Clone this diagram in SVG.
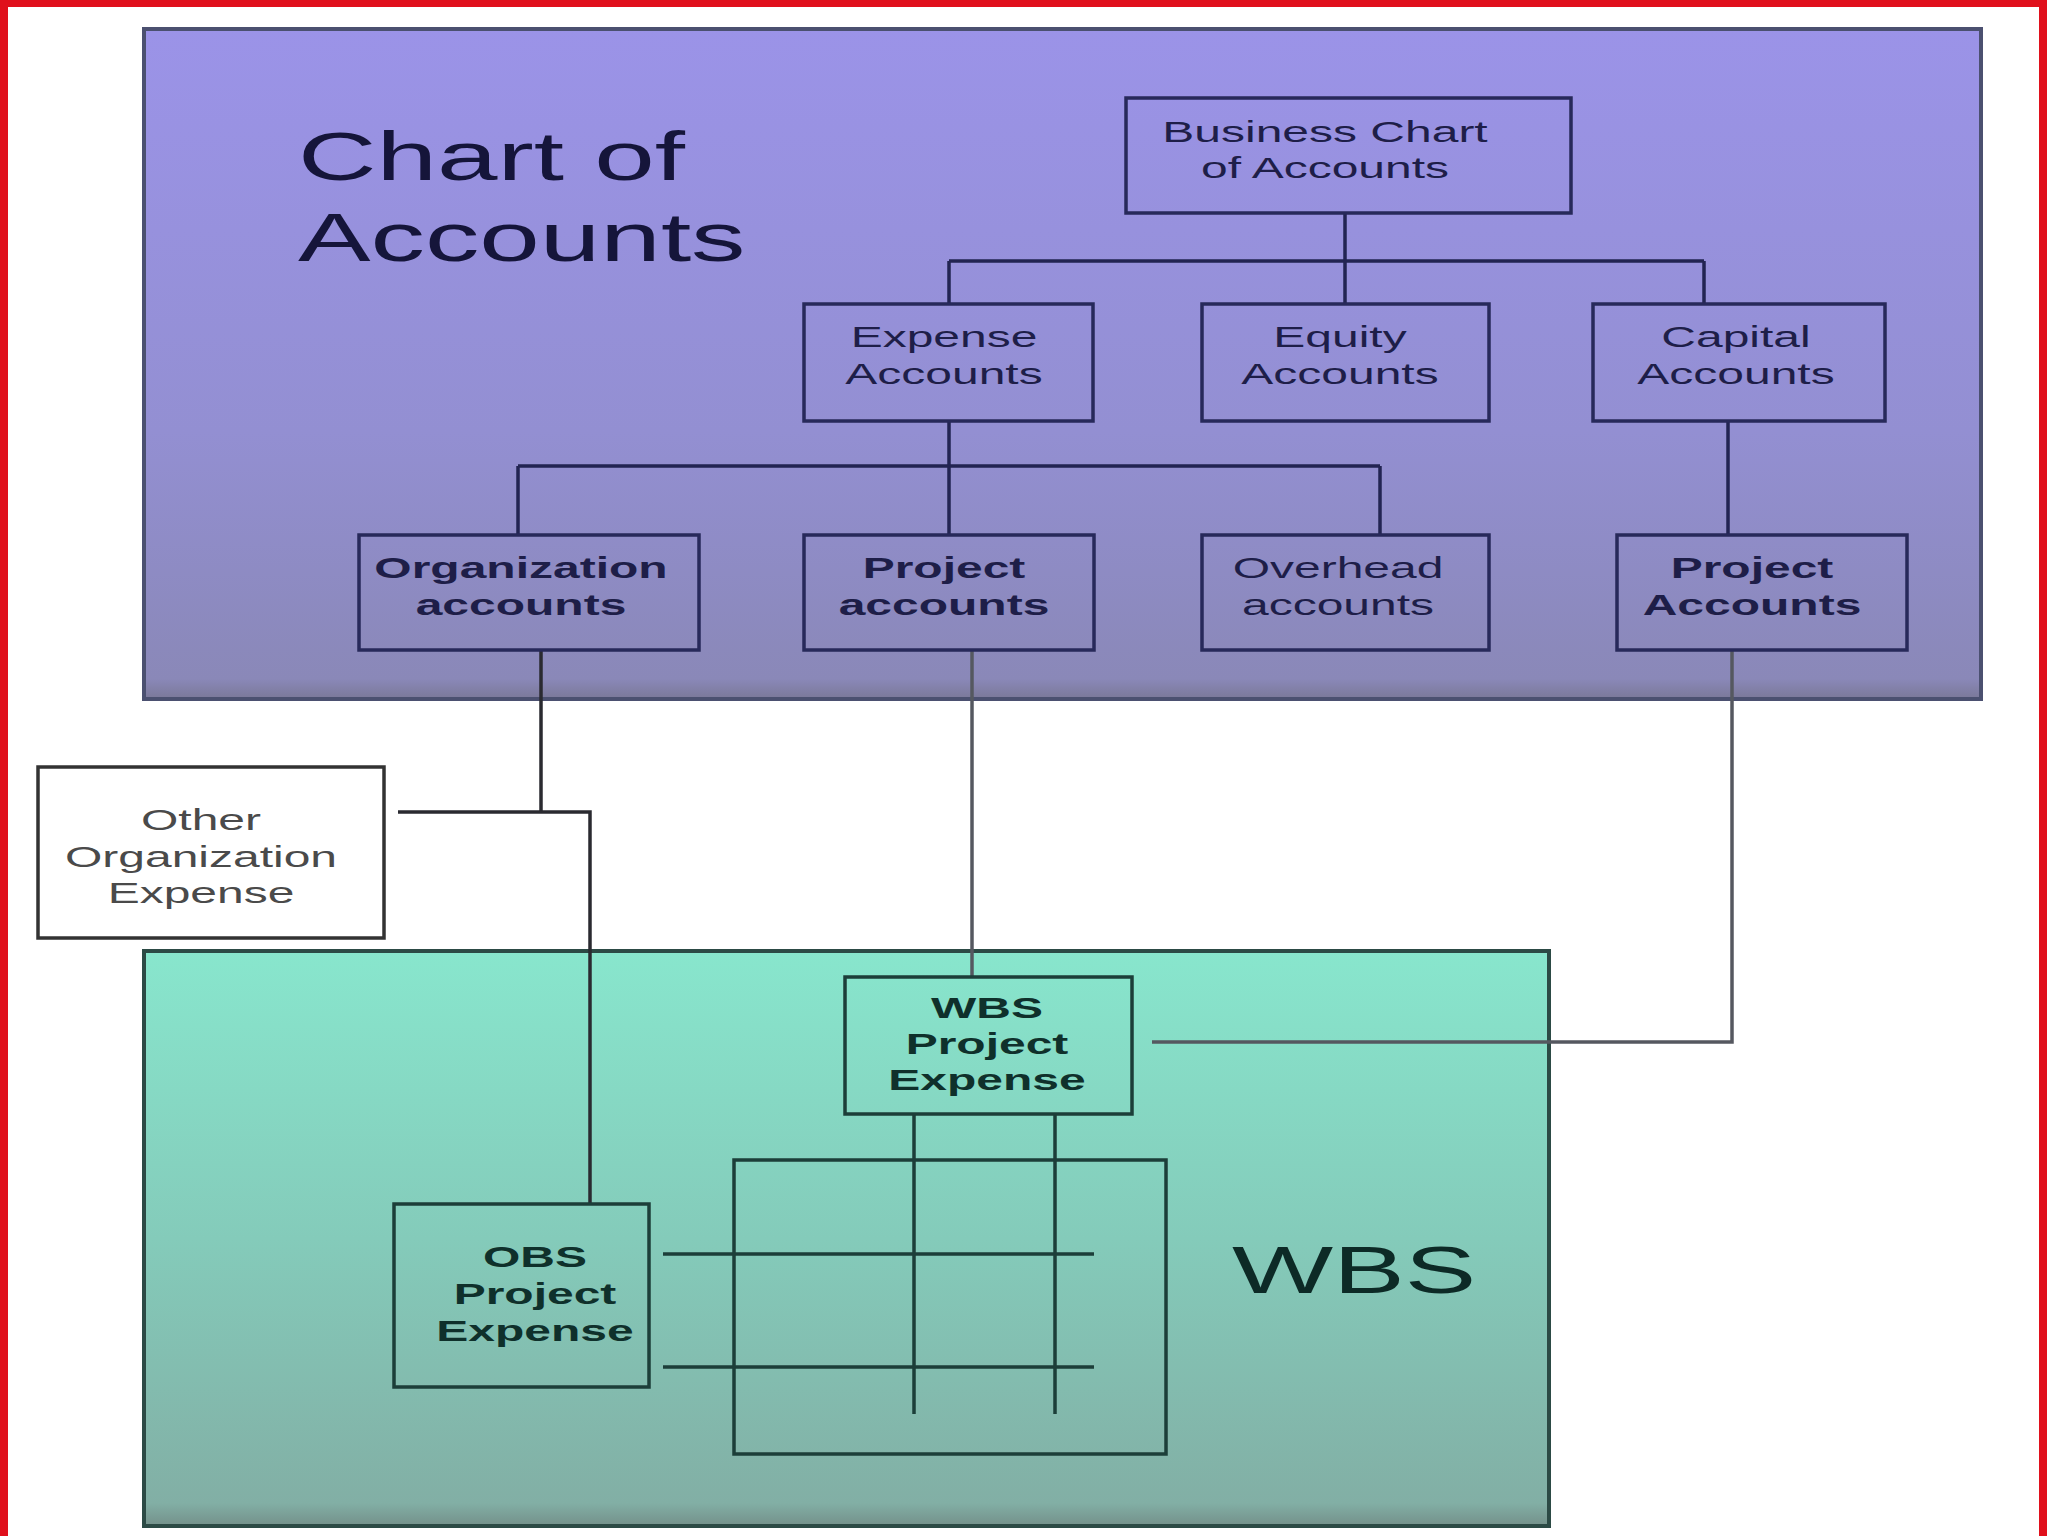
<svg xmlns="http://www.w3.org/2000/svg" width="2048" height="1536" viewBox="0 0 2048 1536">
  <defs>
    <linearGradient id="gPurple" x1="0" y1="0" x2="0" y2="1">
      <stop offset="0" stop-color="#9b93e8"/>
      <stop offset="0.6" stop-color="#938fd2"/>
      <stop offset="0.97" stop-color="#8a88b8"/>
      <stop offset="1" stop-color="#7a7898"/>
    </linearGradient>
    <linearGradient id="gTeal" x1="0" y1="0" x2="0" y2="1">
      <stop offset="0" stop-color="#88e6cd"/>
      <stop offset="0.5" stop-color="#84cbba"/>
      <stop offset="0.96" stop-color="#82afa5"/>
      <stop offset="1" stop-color="#74908a"/>
    </linearGradient>
    <style>
      .frame { fill: none; stroke: #e0101c; stroke-width: 8; }
      .bgP { fill: url(#gPurple); stroke: #4b5070; stroke-width: 4; }
      .bgT { fill: url(#gTeal); stroke: #2c4a45; stroke-width: 4; }
      .boxP { fill: none; stroke: #27295a; stroke-width: 3.5; }
      .boxT { fill: none; stroke: #1c3e39; stroke-width: 3.5; }
      .boxW { fill: #ffffff; stroke: #333333; stroke-width: 3.5; }
      .t { font-family: "Liberation Sans", Arial, sans-serif; font-size: 30px; text-anchor: middle; }
      .tp { fill: #1e1e48; }
      .tt { fill: #0f302b; font-weight: bold; }
      .tw { fill: #4a4a4a; }
      .b { font-weight: bold; }
      .title { font-family: "Liberation Sans", Arial, sans-serif; font-size: 68px; fill: #15153a; }
      .wbs { font-family: "Liberation Sans", Arial, sans-serif; font-size: 67px; fill: #0d2a26; }
      .cP { stroke: #222452; stroke-width: 3.5; fill: none; }
      .cD { stroke: #2a2a30; stroke-width: 3.5; fill: none; }
      .cG { stroke: #555860; stroke-width: 3.5; fill: none; }
      .cT { stroke: #1c3e39; stroke-width: 3.5; fill: none; }
    </style>
  </defs>

  <rect x="0" y="0" width="2048" height="1536" fill="#ffffff"/>
  <rect class="frame" x="4" y="3" width="2039" height="1600"/>

  <g id="chart-of-accounts-area">
    <rect class="bgP" x="144" y="29" width="1837" height="670"/>
    <text class="title" transform="translate(298,0) scale(1.6,1)"><tspan x="0" y="180">Chart of</tspan><tspan x="0" y="261">Accounts</tspan></text>
  </g>

  <g id="wbs-area">
    <rect class="bgT" x="144" y="951" width="1405" height="575"/>
    <text class="wbs" transform="translate(1232,1293) scale(1.6,1)">WBS</text>
  </g>

  <g id="connectors">
    <path class="cP" d="M1345 213 V261 M949 261 H1704 M949 261 V304 M1345 261 V304 M1704 261 V304"/>
    <path class="cP" d="M949 421 V535 M518 466 H1380 M518 466 V535 M1380 466 V535"/>
    <path class="cP" d="M1728 421 V535"/>
    <path class="cD" d="M541 650 V812 M398 812 H590 V1204"/>
    <path class="cG" d="M972 650 V977"/>
    <path class="cG" d="M1732 650 V1042 H1152"/>
    <path class="cT" d="M914 1114 V1414 M1055 1114 V1414 M663 1254 H1094 M663 1367 H1094"/>
  </g>

  <g id="business-chart">
    <rect class="boxP" x="1126" y="98" width="445" height="115"/>
    <text class="t tp" transform="translate(1325,0) scale(1.6,1)"><tspan x="0" y="142">Business Chart</tspan><tspan x="0" y="178">of Accounts</tspan></text>
  </g>
  <g id="expense-accounts">
    <rect class="boxP" x="804" y="304" width="289" height="117"/>
    <text class="t tp" transform="translate(944,0) scale(1.6,1)"><tspan x="0" y="347">Expense</tspan><tspan x="0" y="384">Accounts</tspan></text>
  </g>
  <g id="equity-accounts">
    <rect class="boxP" x="1202" y="304" width="287" height="117"/>
    <text class="t tp" transform="translate(1340,0) scale(1.6,1)"><tspan x="0" y="347">Equity</tspan><tspan x="0" y="384">Accounts</tspan></text>
  </g>
  <g id="capital-accounts">
    <rect class="boxP" x="1593" y="304" width="292" height="117"/>
    <text class="t tp" transform="translate(1736,0) scale(1.6,1)"><tspan x="0" y="347">Capital</tspan><tspan x="0" y="384">Accounts</tspan></text>
  </g>
  <g id="organization-accounts">
    <rect class="boxP" x="359" y="535" width="340" height="115"/>
    <text class="t tp b" transform="translate(521,0) scale(1.6,1)"><tspan x="0" y="578">Organization</tspan><tspan x="0" y="615">accounts</tspan></text>
  </g>
  <g id="project-accounts">
    <rect class="boxP" x="804" y="535" width="290" height="115"/>
    <text class="t tp b" transform="translate(944,0) scale(1.6,1)"><tspan x="0" y="578">Project</tspan><tspan x="0" y="615">accounts</tspan></text>
  </g>
  <g id="overhead-accounts">
    <rect class="boxP" x="1202" y="535" width="287" height="115"/>
    <text class="t tp" transform="translate(1338,0) scale(1.6,1)"><tspan x="0" y="578">Overhead</tspan><tspan x="0" y="615">accounts</tspan></text>
  </g>
  <g id="capital-project-accounts">
    <rect class="boxP" x="1617" y="535" width="290" height="115"/>
    <text class="t tp b" transform="translate(1752,0) scale(1.6,1)"><tspan x="0" y="578">Project</tspan><tspan x="0" y="615">Accounts</tspan></text>
  </g>
  <g id="other-organization-expense">
    <rect class="boxW" x="38" y="767" width="346" height="171"/>
    <text class="t tw" transform="translate(201,0) scale(1.6,1)"><tspan x="0" y="830">Other</tspan><tspan x="0" y="867">Organization</tspan><tspan x="0" y="903">Expense</tspan></text>
  </g>
  <g id="wbs-project-expense">
    <rect class="boxT" x="845" y="977" width="287" height="137"/>
    <text class="t tt" transform="translate(987,0) scale(1.6,1)"><tspan x="0" y="1018">WBS</tspan><tspan x="0" y="1054">Project</tspan><tspan x="0" y="1090">Expense</tspan></text>
  </g>
  <g id="obs-project-expense">
    <rect class="boxT" x="394" y="1204" width="255" height="183"/>
    <text class="t tt" transform="translate(535,0) scale(1.6,1)"><tspan x="0" y="1267">OBS</tspan><tspan x="0" y="1304">Project</tspan><tspan x="0" y="1341">Expense</tspan></text>
  </g>
  <g id="grid-box">
    <rect class="boxT" x="734" y="1160" width="432" height="294"/>
  </g>
</svg>
